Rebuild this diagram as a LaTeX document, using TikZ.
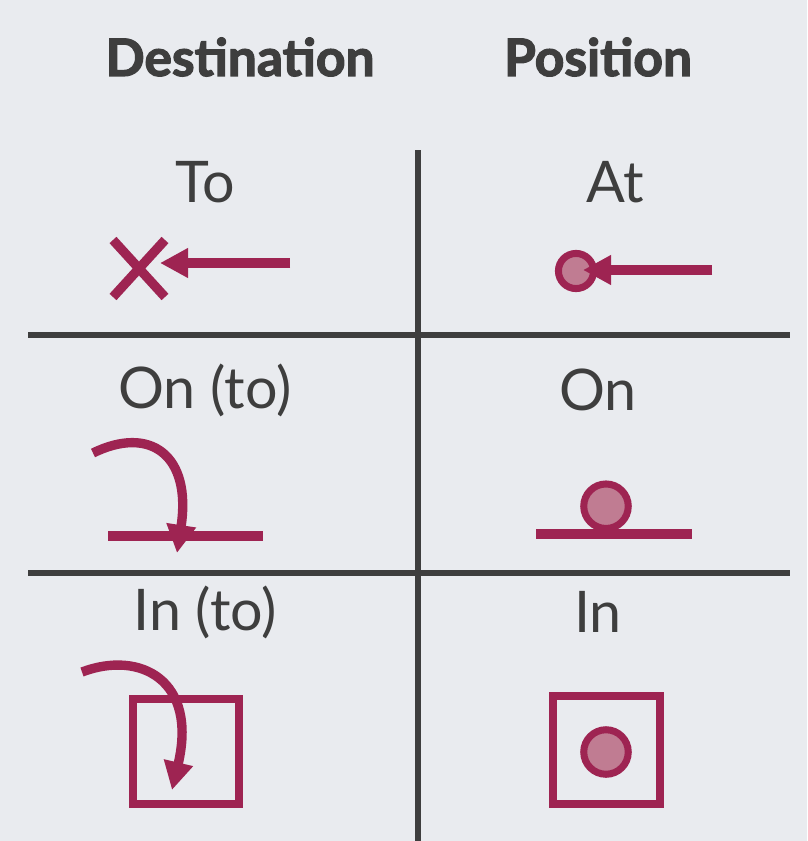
\documentclass[tikz,border=0pt]{standalone}
\usepackage{fontspec}
\setmainfont{Lato}[BoldFeatures={FakeBold=2.5}]
\usetikzlibrary{arrows.meta}
\definecolor{mcol}{RGB}{158,36,82}
\definecolor{pcol}{RGB}{192,124,146}
\definecolor{gcol}{RGB}{62,62,62}
\definecolor{bgcol}{RGB}{233,235,239}
\tikzset{grid/.style={gcol,line width=4.5pt}}
\tikzset{sym/.style={mcol,line width=8pt}}
\tikzset{edge/.style={sym,-{Triangle[length=24pt,width=24pt]}}}
\tikzset{ball/.style={circle,draw=mcol,fill=pcol,line width=6pt,minimum size=38pt,inner sep=0pt}}
\tikzset{small/.style={minimum size=30pt}}
\tikzset{head/.style={text=gcol,font=\fontsize{44}{46}\selectfont\bfseries}}
\tikzset{word/.style={text=gcol,font=\fontsize{49}{52}\selectfont}}

\begin{document}
\begin{tikzpicture}[x=0.03cm,y=-0.03cm]
\fill [bgcol] (0,0) rectangle (807,841);
\useasboundingbox (0,0) rectangle (807,841);

\node [head] (dest) at (240,57) {Destination};
\node [head] (pos) at (598,57) {Position};

\draw [grid] (418,150) -- (418,841);
\draw [grid] (28,335) -- (790,335);
\draw [grid] (28,573) -- (790,573);

\node [word] (to) at (205,182) {To};
\node [word] (at) at (615,182) {At};
\node [word] (onto) at (205,390) {On (to)};
\node [word] (on) at (598,390) {On};
\node [word] (into) at (205,612) {In (to)};
\node [word] (in) at (598,612) {In};

% to
\draw [sym] (113,240) -- (165,297);
\draw [sym] (113,297) -- (165,240);
\coordinate (to_s) at (290,263);
\coordinate (to_t) at (160,263);
\draw [edge] (to_s) -- (to_t);

% at
\node [ball,small] (at_b) at (576,271) {};
\coordinate (at_s) at (712,270);
\coordinate (at_t) at (583,270);
\draw [edge] (at_s) -- (at_t);

% on (to)
\draw [sym] (108,536) -- (263,536);
\coordinate (onto_s) at (93,453);
\coordinate (onto_t) at (177,553);
\draw [edge] (onto_s) .. controls (150,425) and (192,455) .. (onto_t);

% on
\draw [sym] (536,534) -- (692,534);
\node [ball,anchor=south] (on_b) at (606,532) {};

% in (to)
\draw [mcol,line width=6pt] (133,699) rectangle (239,804);
\coordinate (into_s) at (82,672);
\coordinate (into_t) at (172,790);
\draw [edge] (into_s) .. controls (140,650) and (198,680) .. (into_t);

% in
\draw [mcol,line width=6pt] (553,696) rectangle (660,804);
\node [ball] (in_b) at (606,752) {};
\end{tikzpicture}
\end{document}
